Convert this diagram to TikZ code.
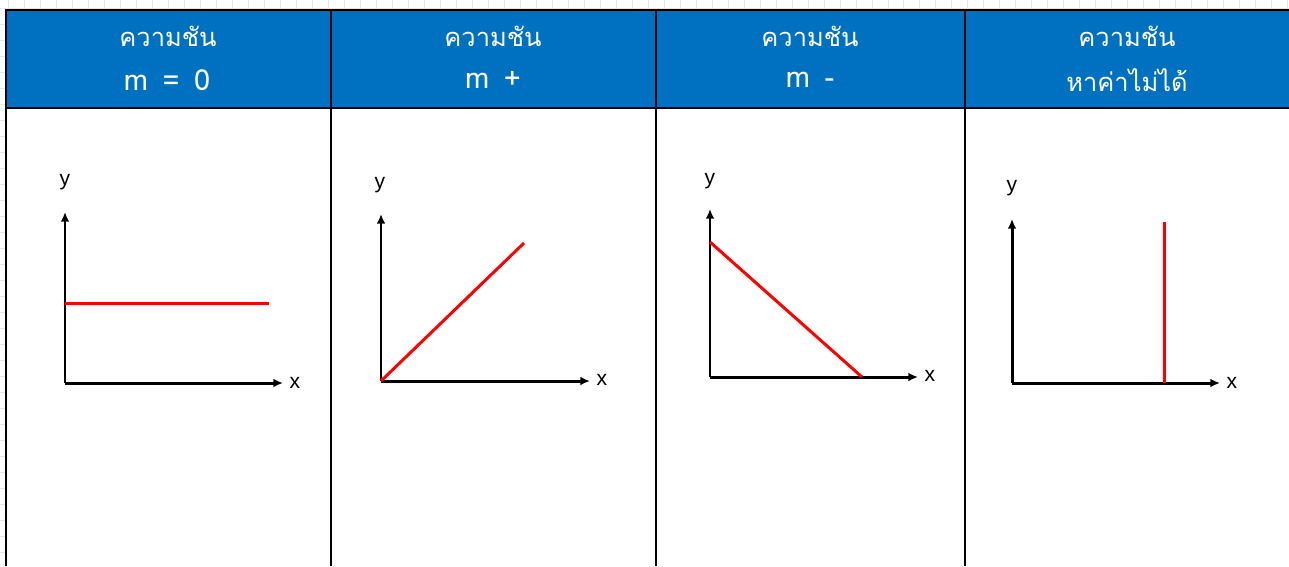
\documentclass[tikz,border=0pt]{standalone}
\usepackage{fontspec}
\setmainfont{Liberation Sans}
\newfontfamily\thaifont[Script=Thai]{Loma}
\usepackage{xcolor}
\usetikzlibrary{arrows.meta}
\definecolor{headblue}{HTML}{0070C0}
\definecolor{gridgray}{gray}{0.9}

\begin{document}
\begin{tikzpicture}[
  x=0.02cm, y=-0.02cm,
  head/.style={font=\thaifont\fontsize{14.5}{17}\selectfont, text=white},
  sym/.style={font=\thaifont\fontsize{16.5}{20}\selectfont, text=white},
  axis/.style={-{Latex[length=5.5pt,width=5pt]}, line width=1.7pt},
  graph/.style={red, line width=1.7pt},
  lbl/.style={font=\fontsize{12}{14}\selectfont}
]
  \useasboundingbox (0,0) rectangle (1289,566);
  \draw[gridgray, line width=0.4pt, step=0.32cm, shift={(8,8)}] (-8,-8) grid (1281,558);

  % table
  \fill[white] (6,10) rectangle (1289,566);
  \fill[headblue] (6,10) rectangle (1289,108);
  \draw[line width=1.3pt] (1289,10) -- (6,10) -- (6,566);
  \draw[line width=1.3pt] (6,108) -- (1289,108);
  \draw[line width=1.3pt] (331,10) -- (331,566);
  \draw[line width=1.3pt] (656,10) -- (656,566);
  \draw[line width=1.3pt] (965,10) -- (965,566);

  \node[head] (h1a) at (168,36) {ความชัน};
  \node[sym]  (h1b) at (167,80) {m \,= \,0};
  \node[head] (h2a) at (493,36) {ความชัน};
  \node[sym]  (h2b) at (493,80) {m \,+};
  \node[head] (h3a) at (810,36) {ความชัน};
  \node[sym]  (h3b) at (810,80) {m \,-};
  \node[head] (h4a) at (1127,36) {ความชัน};
  \node[head] (h4b) at (1127,80) {หาค่าไม่ได้};

  % m = 0
  \coordinate (o1) at (65,383);
  \coordinate (y1) at (65,212);
  \coordinate (x1) at (283,383);
  \coordinate (a1) at (65,303);
  \coordinate (b1) at (269,303);
  \draw[axis] (o1) -- (y1);
  \draw[axis] (o1) -- (x1);
  \draw[graph] (a1) -- (b1);
  \node[lbl] (ly1) at (65,182) {y};
  \node[lbl] (lx1) at (295,383) {x};

  % m +
  \coordinate (o2) at (381,381);
  \coordinate (y2) at (381,214);
  \coordinate (x2) at (590,381);
  \coordinate (b2) at (524,243);
  \draw[axis] (o2) -- (y2);
  \draw[axis] (o2) -- (x2);
  \draw[graph] (o2) -- (b2);
  \node[lbl] (ly2) at (380,185) {y};
  \node[lbl] (lx2) at (602,380) {x};

  % m -
  \coordinate (o3) at (710,377);
  \coordinate (y3) at (710,209);
  \coordinate (x3) at (918,377);
  \coordinate (a3) at (710,242);
  \coordinate (b3) at (862,377);
  \draw[axis] (o3) -- (y3);
  \draw[axis] (o3) -- (x3);
  \draw[graph] (a3) -- (b3);
  \node[lbl] (ly3) at (710,181) {y};
  \node[lbl] (lx3) at (930,376) {x};

  % undefined
  \coordinate (o4) at (1012,383);
  \coordinate (y4) at (1012,219);
  \coordinate (x4) at (1220,383);
  \coordinate (a4) at (1164,222);
  \coordinate (b4) at (1164,383);
  \draw[axis] (o4) -- (y4);
  \draw[axis] (o4) -- (x4);
  \draw[graph] (a4) -- (b4);
  \node[lbl] (ly4) at (1012,188) {y};
  \node[lbl] (lx4) at (1232,383) {x};
\end{tikzpicture}
\end{document}
